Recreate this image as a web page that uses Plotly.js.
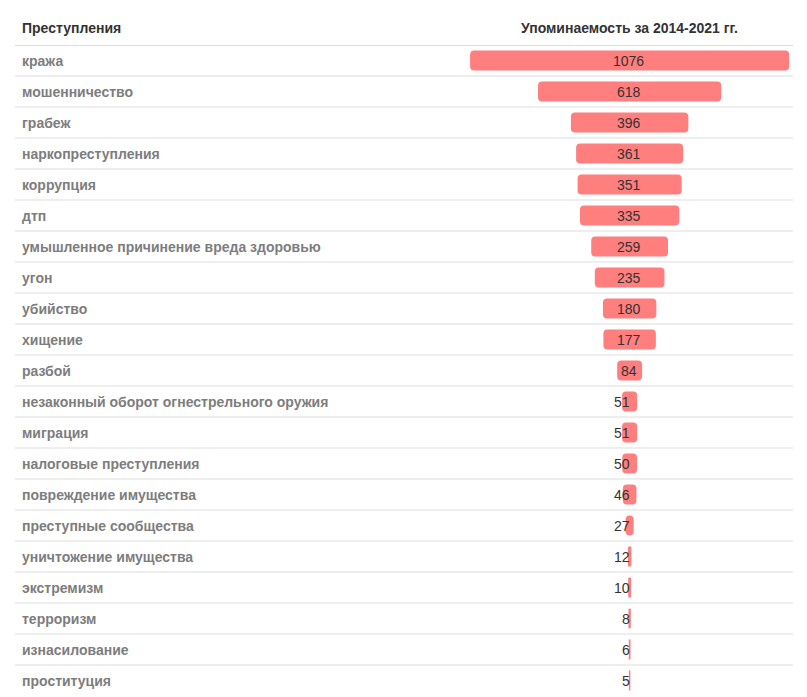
<!DOCTYPE html>
<html>
<head>
<meta charset="utf-8">
<script src="https://cdn.plot.ly/plotly-3.0.1.min.js"></script>
<style>html,body{margin:0;padding:0;background:#fff;}#chart{width:807px;height:697px;}</style>
</head>
<body>
<div id="chart"></div>
<script>
const categories = ["кража","мошенничество","грабеж","наркопреступления","коррупция","дтп","умышленное причинение вреда здоровью","угон","убийство","хищение","разбой","незаконный оборот огнестрельного оружия","миграция","налоговые преступления","повреждение имущества","преступные сообщества","уничтожение имущества","экстремизм","терроризм","изнасилование","проституция"];
const mentions = [1076,618,396,361,351,335,259,235,180,177,84,51,51,50,46,27,12,10,8,6,5];
const headerLeft = "Преступления";
const headerRight = "Упоминаемость за 2014-2021 гг.";

const FONT = '"Liberation Sans", Arial, Helvetica, sans-serif';
const bases = mentions.map(v => -v / 2);

const trace = {
  type: 'bar', orientation: 'h',
  y: categories, x: mentions, base: bases,
  width: 0.645,
  marker: {color: '#ff7f7f', cornerradius: 4, line: {width: 0}},
  hoverinfo: 'skip'
};

const annotations = [];
categories.forEach((c, i) => {
  annotations.push({
    xref: 'paper', yref: 'y', x: 0, y: c, xanchor: 'left', yanchor: 'middle',
    xshift: 5, text: '<b>' + c + '</b>', showarrow: false,
    font: {family: FONT, size: 14, color: '#7d7d7d'}
  });
  const narrow = mentions[i] < 60;
  annotations.push({
    xref: 'x', yref: 'y', x: 0, y: c,
    xanchor: narrow ? 'right' : 'center', yanchor: 'middle',
    xshift: narrow ? 2 : -1,
    text: String(mentions[i]), showarrow: false,
    font: {family: FONT, size: 14, color: '#333333'}
  });
});
annotations.push({
  xref: 'paper', yref: 'paper', x: 0, y: 1, xanchor: 'left', yanchor: 'middle',
  xshift: 5, yshift: 17, text: '<b>' + headerLeft + '</b>', showarrow: false,
  font: {family: FONT, size: 14, color: '#333333'}
});
annotations.push({
  xref: 'x', yref: 'paper', x: 0, y: 1, xanchor: 'center', yanchor: 'middle',
  yshift: 17, text: '<b>' + headerRight + '</b>', showarrow: false,
  font: {family: FONT, size: 14, color: '#333333'}
});

const shapes = [{
  type: 'line', xref: 'paper', yref: 'y', x0: 0, x1: 1, y0: -0.5, y1: -0.5,
  line: {color: '#dddddd', width: 2}
}];
for (let i = 0; i < categories.length - 1; i++) {
  shapes.push({
    type: 'line', xref: 'paper', yref: 'y', x0: 0, x1: 1, y0: i + 0.5, y1: i + 0.5,
    line: {color: '#dddddd', width: 1}, layer: 'below'
  });
}

const layout = {
  width: 807, height: 697,
  margin: {l: 15, r: 14, t: 45, b: 1, pad: 0},
  paper_bgcolor: '#ffffff', plot_bgcolor: '#ffffff',
  showlegend: false,
  xaxis: {range: [-2073, 551], visible: false, showgrid: false, zeroline: false, fixedrange: true},
  yaxis: {type: 'category', categoryorder: 'array', categoryarray: categories,
          range: [categories.length - 0.5, -0.5], visible: false, showgrid: false, zeroline: false},
  annotations: annotations,
  shapes: shapes
};

Plotly.newPlot('chart', [trace], layout, {displayModeBar: false, staticPlot: true});
</script>
</body>
</html>
